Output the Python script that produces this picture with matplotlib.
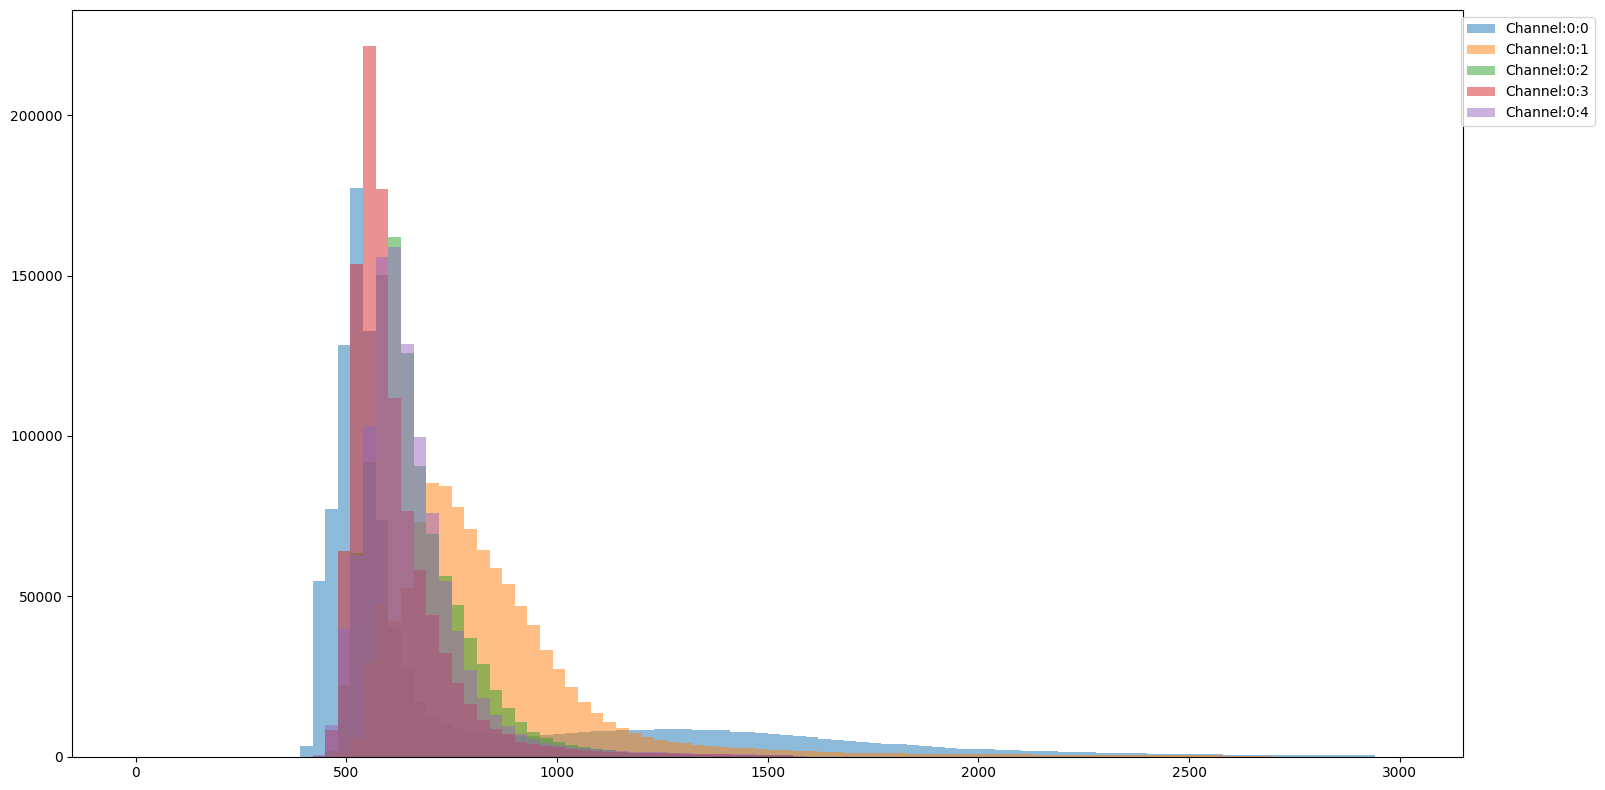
import numpy as np
import matplotlib
matplotlib.use('Agg')
import matplotlib.pyplot as plt

# bins of width 30 over 0..3000, counts (in thousands)
# every list starts at the bin [390, 420) and runs to the last bin [2970, 3000)
first_bin = 390
bin_width = 30

ch0 = [3.3, 54.8, 77.2, 128.2, 177.4, 132.8, 73.8, 40.3, 27.5, 17.0,
       12.7, 10.2, 8.7, 8.1, 7.5, 7.0, 6.8, 6.6, 6.6, 6.8,
       7.1, 7.4, 7.7, 8.0, 8.0, 8.3, 8.3, 8.3, 8.6, 8.6,
       8.6, 8.3, 8.3, 8.3, 7.7, 7.7, 7.4, 7.1, 6.8, 6.4,
       6.1, 5.5, 5.2, 4.9, 4.6, 4.3, 4.0, 4.0, 3.6, 3.3,
       3.0, 2.7, 2.4, 2.4, 2.4, 2.1, 2.1, 1.8, 1.8, 1.8,
       1.5, 1.5, 1.5, 1.1, 1.1, 1.1, 1.1, 0.85, 0.85, 0.85,
       0.85, 0.85, 0.85, 0.5, 0.5, 0.5, 0.5, 0.4, 0.4, 0.4,
       0.4, 0.4, 0.4, 0.4, 0.4, 0, 0]

ch1 = [0, 0, 0.3, 1.2, 5.8, 29.5, 47.6, 42.3, 52.6, 73.2,
       85.4, 84.4, 77.9, 71.0, 64.5, 58.8, 53.9, 47.0, 41.0, 33.3,
       27.3, 21.7, 17.0, 13.6, 10.8, 8.9, 7.4, 6.1, 5.2, 4.6,
       4.3, 3.7, 3.3, 3.0, 2.7, 2.6, 2.4, 2.1, 2.0, 1.8,
       1.7, 1.5, 1.4, 1.3, 1.2, 1.1, 1.0, 1.0, 0.95, 0.9,
       0.9, 0.85, 0.85, 0.8, 0.8, 0.75, 0.7, 0.7, 0.65, 0.6,
       0.6, 0.55, 0.55, 0.5, 0.5, 0.5, 0.45, 0.45, 0.45, 0.4,
       0.4, 0.4, 0.4, 0.35, 0.35, 0.3, 0.3, 0, 0, 0,
       0, 0, 0, 0, 0, 0, 0]

ch2 = [0, 0, 1.8, 22.4, 63.5, 91.9, 150.2, 162.1, 125.9, 90.7,
       69.5, 56.4, 47.3, 37.0, 28.9, 20.8, 15.2, 10.8, 7.7, 5.8,
       4.6, 3.6, 2.9, 2.3, 2.0, 1.6, 1.3, 1.1, 0.9, 0.7,
       0.6, 0.5, 0.4, 0.3, 0.3, 0.2, 0.2, 0.1, 0.1, 0,
       0, 0, 0, 0, 0, 0, 0, 0, 0, 0,
       0, 0, 0, 0, 0, 0, 0, 0, 0, 0,
       0, 0, 0, 0, 0, 0, 0, 0, 0, 0,
       0, 0, 0, 0, 0, 0, 0, 0, 0, 0,
       0, 0, 0, 0, 0, 0, 0]

ch3 = [0, 0.3, 8.3, 64.2, 153.7, 221.7, 177.1, 111.9, 76.6, 58.2,
       44.2, 32.3, 23.0, 16.4, 11.4, 8.6, 7.1, 4.6, 4.0, 3.4,
       2.9, 2.5, 2.1, 1.8, 1.6, 1.4, 1.3, 1.2, 1.1, 1.0,
       0.9, 0.8, 0.7, 0.7, 0.6, 0.6, 0.5, 0.5, 0.4, 0,
       0, 0, 0, 0, 0, 0, 0, 0, 0, 0,
       0, 0, 0, 0, 0, 0, 0, 0, 0, 0,
       0, 0, 0, 0, 0, 0, 0, 0, 0, 0,
       0, 0, 0, 0, 0, 0, 0, 0, 0, 0,
       0, 0, 0, 0, 0, 0, 0]

ch4 = [0, 0.5, 9.9, 39.8, 63.0, 103.1, 155.9, 159.0, 128.7, 99.7,
       76.0, 54.8, 39.2, 27.0, 18.3, 13.0, 9.6, 7.1, 5.5, 4.3,
       3.6, 3.0, 2.6, 2.3, 2.1, 1.8, 1.6, 1.5, 1.4, 1.3,
       1.2, 0.9, 0.8, 0.8, 0.7, 0.7, 0.6, 0.6, 0.5, 0.1,
       0, 0, 0, 0, 0, 0, 0, 0, 0, 0,
       0, 0, 0, 0, 0, 0, 0, 0, 0, 0,
       0, 0, 0, 0, 0, 0, 0, 0, 0, 0,
       0, 0, 0, 0, 0, 0, 0, 0, 0, 0,
       0, 0, 0, 0, 0, 0, 0]

labels = ['Channel:0:0', 'Channel:0:1', 'Channel:0:2', 'Channel:0:3', 'Channel:0:4']
channels = [ch0, ch1, ch2, ch3, ch4]

edges = np.arange(0, 3001, bin_width)
centers = edges[:-1] + bin_width / 2.

fig = plt.figure(figsize=(16.05, 7.9), dpi=100)
ax = fig.add_axes([0.04505, 0.04215, 0.8665, 0.9452])

for lab, vals in zip(labels, channels):
    counts = np.zeros(len(centers))
    start = first_bin // bin_width
    counts[start:start + len(vals)] = np.array(vals) * 1000
    ax.hist(centers, bins=edges, weights=counts, alpha=0.5, label=lab)

ax.legend(loc='upper right', bbox_to_anchor=(1.1, 1))

fig.savefig('out.png', dpi=100)
